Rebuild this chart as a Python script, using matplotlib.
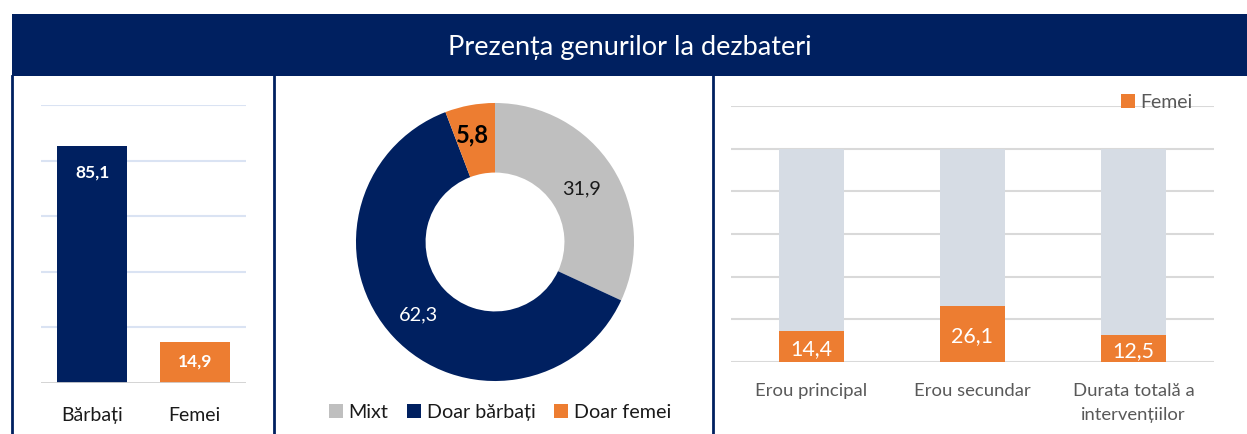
import matplotlib
matplotlib.use("Agg")
import matplotlib.pyplot as plt
import matplotlib.patches as mpatches
from matplotlib.lines import Line2D

# ── Data ────────────────────────────────────────
TITLE = "Prezența genurilor la dezbateri"

gen_labels = ["Bărbați", "Femei"]
gen_values = [85.1, 14.9]

donut_labels = ["Mixt", "Doar bărbați", "Doar femei"]
donut_values = [31.9, 62.3, 5.8]

role_labels = ["Erou principal", "Erou secundar", "Durata totală a\nintervențiilor"]
role_total = [100, 100, 100]
role_femei = [14.4, 26.1, 12.5]

NAVY = "#002060"
ORANGE = "#ED7D31"
GRAY = "#BFBFBF"
LIGHT = "#D6DCE4"
FONT = "Lato"

plt.rcParams["font.family"] = [FONT, "DejaVu Sans"]

W, H = 1247, 435
fig = plt.figure(figsize=(W / 100, H / 100), dpi=100)
fig.patch.set_facecolor("white")


def px_axes(x0, y_top, w, h):
    # pixel box (from top-left) -> figure fraction
    return fig.add_axes([x0 / W, (H - y_top - h) / H, w / W, h / H])


def fmt(v):
    return f"{v:.1f}".replace(".", ",")


# ── Frame: title bar + borders ──────────────────
fig.patches.append(mpatches.Rectangle(
    (12 / W, (H - 77) / H), (W - 12) / W, 62 / H,
    transform=fig.transFigure, facecolor=NAVY, edgecolor="none", zorder=0))
fig.text((12 + W) / 2 / W, (H - 47) / H, TITLE, color="white",
         fontsize=19.5, ha="center", va="center")
for xp in (12, 274, 713):
    fig.lines.append(Line2D([xp / W, xp / W], [0, (H - 77) / H],
                            transform=fig.transFigure, color=NAVY, lw=2))

# ── Left: bars ──────────────────────────────────
ax1 = px_axes(41, 106, 205, 278)
x1 = range(len(gen_values))
ax1.bar(x1, gen_values, width=0.68, color=[NAVY, ORANGE], zorder=3)
ax1.set_xlim(-0.5, 1.5)
ax1.set_ylim(0, 100)
ax1.set_yticks(range(20, 101, 20))
ax1.grid(axis="y", color="#DAE3F3", lw=1.5, zorder=0)
ax1.axhline(0, color="#D0D0D0", lw=2, zorder=4)
for s in ax1.spines.values():
    s.set_visible(False)
ax1.tick_params(left=False, bottom=False, labelleft=False)
ax1.set_xticks(list(x1))
ax1.set_xticklabels(gen_labels, fontsize=14, color="#1a1a1a")
ax1.tick_params(axis="x", pad=13)
for xi, v in zip(x1, gen_values):
    y = v - 9 if v > 30 else v / 2 + 0.5
    ax1.text(xi, y, fmt(v), ha="center", va="center",
             color="white", fontsize=12.5, fontweight="bold", zorder=5)

# ── Middle: donut ───────────────────────────────
ax2 = px_axes(355, 103, 280, 280)
wedges, _ = ax2.pie(donut_values, colors=[GRAY, NAVY, ORANGE], startangle=90,
                    counterclock=False, radius=0.993,
                    wedgeprops=dict(width=0.497, edgecolor="none"))
ax2.set_xlim(-1, 1)
ax2.set_ylim(-1, 1)
ax2.set_aspect("equal")
lbl_pos = [(0.62, 0.39), (-0.55, -0.51), (-0.16, 0.77)]
lbl_col = ["#1a1a1a", "white", "black"]
lbl_size = [14.3, 14.3, 17]
lbl_wt = ["normal", "normal", "bold"]
for v, p, c, s, w in zip(donut_values, lbl_pos, lbl_col, lbl_size, lbl_wt):
    ax2.text(p[0], p[1], fmt(v), ha="center", va="center",
             color=c, fontsize=s, fontweight=w)
fig.legend(wedges, donut_labels, loc="center", bbox_to_anchor=(500 / W, (H - 413) / H),
           ncol=3, frameon=False, fontsize=14.2, handlelength=0.7, handleheight=0.7,
           handletextpad=0.3, columnspacing=0.95, labelcolor="#1a1a1a")

# ── Right: stacked bars ─────────────────────────
ax3 = px_axes(731, 107, 483, 256)
x3 = range(len(role_total))
ax3.bar(x3, role_total, width=0.4, color=LIGHT, zorder=3)
fem = ax3.bar(x3, role_femei, width=0.4, color=ORANGE, zorder=4, label="Femei")
ax3.set_xlim(-0.5, 2.5)
ax3.set_ylim(0, 120)
ax3.set_yticks(range(0, 121, 20))
ax3.grid(axis="y", color="#D9D9D9", lw=1.5, zorder=0)
for s in ax3.spines.values():
    s.set_visible(False)
ax3.tick_params(left=False, bottom=False, labelleft=False)
ax3.set_xticks(list(x3))
ax3.set_xticklabels(role_labels, fontsize=13.3, color="#595959", linespacing=1.6)
ax3.tick_params(axis="x", pad=11)
for xi, v in zip(x3, role_femei):
    ax3.text(xi, v / 2 - 0.5, fmt(v), ha="center", va="center",
             color="white", fontsize=15.4, zorder=6)
ax3.legend(handles=[fem], loc="center", bbox_to_anchor=(1157 / W, (H - 103) / H),
           bbox_transform=fig.transFigure, frameon=False, fontsize=14,
           handlelength=0.7, handleheight=0.7, handletextpad=0.3, labelcolor="#595959")

fig.savefig("out.png", dpi=100, facecolor="white")
